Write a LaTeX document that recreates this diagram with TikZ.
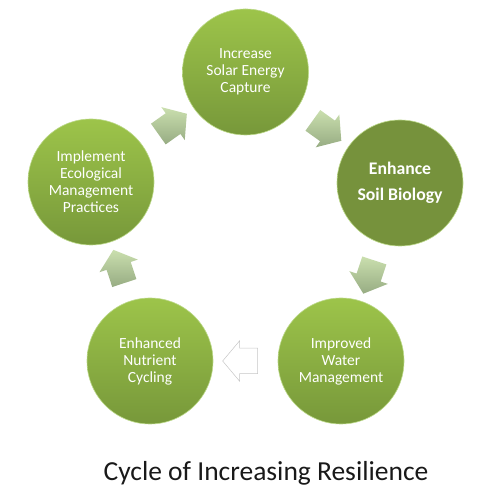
\documentclass[tikz,border=0pt]{standalone}
\usepackage{fontspec}
\setmainfont{Carlito}
\usetikzlibrary{shapes.arrows}
\definecolor{leafTop}{HTML}{9DC44A}
\definecolor{leafBot}{HTML}{77983A}
\definecolor{leafDark}{HTML}{76923C}
\definecolor{leafRim}{HTML}{BCD98A}
\definecolor{arrTop}{HTML}{CADFAE}
\definecolor{arrBot}{HTML}{97AC83}
\begin{document}
\begin{tikzpicture}[x=1pt,y=1pt,
    stage/.style={circle,minimum size=126pt,inner sep=0pt,align=center,text=white,
        top color=leafTop,bottom color=leafBot,draw=leafRim,line width=0.6pt,
        font=\fontsize{15.5}{17}\selectfont},
    blockarrow/.style={single arrow,minimum height=35pt,inner xsep=0pt,inner ysep=12.5pt,
        single arrow head extend=7.5pt,single arrow tip angle=100,rotate=#1},
    turn/.style={blockarrow=#1,shading=axis,shading angle=-#1,top color=arrTop,bottom color=arrBot}]
\useasboundingbox (0,0) rectangle (492,492);
%\tikzset{every node/.style={draw=red}}
\node[stage] (solar) at (245.5,420) {Increase\\Solar Energy\\Capture};
\node[stage,top color=leafDark,bottom color=leafDark,
      font=\fontsize{17.7}{26}\selectfont\bfseries] (soil) at (400,309) {Enhance\\Soil Biology};
\node[stage] (water) at (341,131) {Improved\\Water\\Management};
\node[stage] (nutrient) at (150,131) {Enhanced\\Nutrient\\Cycling};
\node[stage] (practice) at (91,310) {Implement\\Ecological\\Management\\Practices};
\path (solar) -- node[turn=-35.7] {} (soil);
\path (soil) -- node[turn=-108.3] {} (water);
\path (water) -- node[blockarrow=180,fill=white,draw=black!22,line width=0.5pt] {} (nutrient);
\path (nutrient) -- node[turn=108.2] {} (practice);
\path (practice) -- node[turn=35.4] {} (solar);
\node[font=\fontsize{27.5}{30}\selectfont,text=black!90] (title) at (266,19) {Cycle of Increasing Resilience};
\end{tikzpicture}
\end{document}
